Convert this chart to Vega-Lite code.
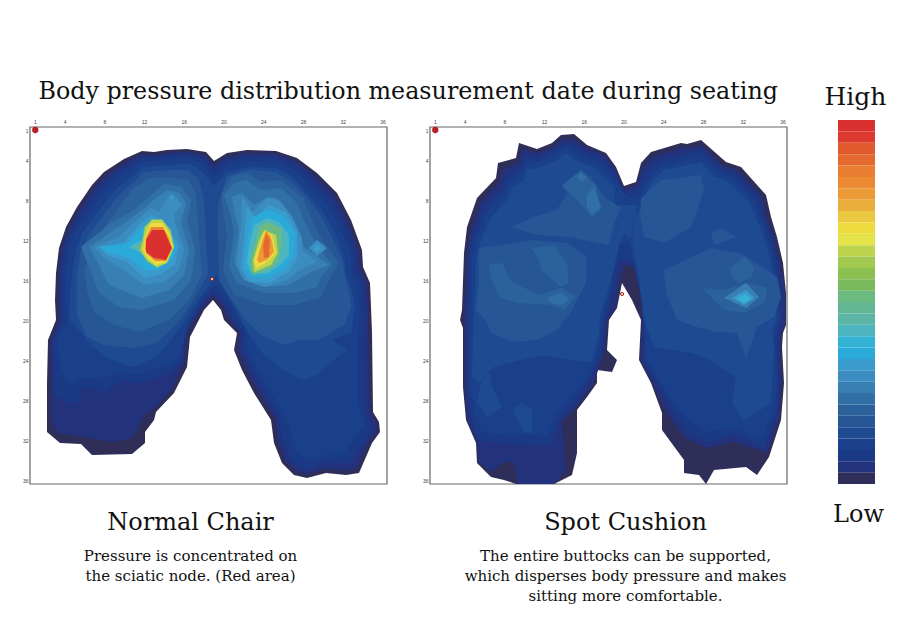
{
"$schema":"https://vega.github.io/schema/vega-lite/v6.json",
"background":"white",
"padding":{"left":22,"top":80,"right":5,"bottom":5},
"bounds":"flush",
"spacing":43,
"title":{"text":"Body pressure distribution measurement date during seating","font":"DejaVu Serif","fontSize":23.8,"fontWeight":"normal","color":"#111","anchor":"start","dx":16,"dy":19,"offset":0},
"config":{"view":{"stroke":null},"title":{"font":"DejaVu Serif","fontWeight":"normal","color":"#111","subtitleFont":"DejaVu Serif","subtitleColor":"#111"},"axis":{"labelFont":"Liberation Sans","labelFontSize":5,"labelColor":"#444","tickSize":0,"labelPadding":2,"domain":false,"ticks":false,"grid":false,"title":null}},
"resolve":{"scale":{"color":"shared"}},
"datasets":{
"frame":[{"x0":0.47,"x1":36.4,"y0":0.7,"y1":36.4}],
"ref":[{"sx":1,"sy":1}],
"ticks":[{"sensor":1,"row":0.2},{"sensor":4,"row":0.2},{"sensor":8,"row":0.2},{"sensor":12,"row":0.2},{"sensor":16,"row":0.2},{"sensor":20,"row":0.2},{"sensor":24,"row":0.2},{"sensor":28,"row":0.2},{"sensor":32,"row":0.2},{"sensor":36,"row":0.2}],
"left":[
{"level":1,"geometry":{"type":"Polygon","coordinates":[[[18.9,4.1],[18.1,3.2],[16.2,2.9],[14.2,3.0],[12.9,3.2],[11.7,3.1],[9.9,3.9],[7.9,5.2],[6.7,6.5],[5.2,8.7],[4.1,10.7],[3.4,12.8],[3.1,15.3],[3.0,18.0],[3.1,20.0],[2.3,22.0],[2.2,26.3],[2.2,31.2],[3.5,32.3],[5.6,32.4],[6.7,33.5],[10.7,33.4],[12.0,32.3],[12.0,31.2],[12.9,30.0],[13.1,29.2],[14.9,27.3],[16.2,24.7],[16.5,21.7],[17.9,19.0],[18.8,18.0],[19.6,19.0],[19.9,20.0],[21.2,21.3],[20.9,23.0],[21.7,25.0],[22.9,27.3],[24.6,30.0],[24.9,32.3],[25.7,34.3],[26.9,35.5],[28.2,35.8],[30.1,35.3],[32.1,35.5],[33.4,35.3],[34.7,32.3],[35.5,31.2],[35.4,30.2],[34.8,29.2],[34.7,21.3],[34.6,18.7],[34.5,16.3],[33.8,14.7],[33.7,13.0],[32.6,10.0],[31.2,7.3],[29.2,5.3],[27.2,3.8],[25.1,3.1],[22.2,3.0],[20.2,3.3],[18.9,4.1]]]}},
{"level":2,"geometry":{"type":"Polygon","coordinates":[[[11.7,3.4],[12.9,3.6],[14.2,3.3],[16.2,3.2],[17.9,3.5],[18.9,4.5],[20.2,3.7],[22.2,3.3],[25.1,3.4],[27.1,4.1],[29.0,5.6],[31.0,7.6],[32.3,10.2],[33.4,13.2],[33.5,14.8],[34.2,16.4],[34.3,18.7],[34.3,21.3],[34.5,29.2],[35.1,30.4],[35.2,31.2],[34.4,32.1],[33.1,34.9],[32.1,35.1],[30.1,34.9],[28.2,35.4],[27.1,35.1],[26.0,34.0],[25.3,32.1],[25.0,29.8],[23.3,27.1],[22.1,24.8],[21.3,22.9],[21.5,21.3],[20.3,19.8],[19.8,18.6],[18.8,17.6],[17.6,19.0],[16.2,21.3],[15.9,24.3],[14.6,27.0],[13.1,28.7],[11.9,29.5],[10.8,31.8],[8.7,32.2],[5.9,31.7],[3.2,31.3],[2.6,30.0],[2.6,22.0],[3.4,20.0],[3.4,15.3],[3.7,12.8],[4.4,10.8],[5.5,8.9],[7.0,6.7],[8.2,5.5],[10.1,4.2],[11.7,3.4]]]}},
{"level":3,"geometry":{"type":"Polygon","coordinates":[[[11.7,3.8],[14.2,3.6],[16.4,3.5],[17.9,3.9],[18.9,5.1],[20.2,4.1],[22.4,3.7],[25.1,3.8],[27.0,4.5],[28.7,6.0],[30.6,8.0],[31.9,10.5],[33.0,13.4],[33.1,15.0],[33.8,16.6],[33.9,18.7],[33.9,22.0],[34.0,29.2],[34.7,30.6],[34.7,31.0],[33.9,32.1],[32.6,34.2],[32.1,34.4],[30.1,34.2],[28.2,35.0],[27.1,34.5],[26.4,33.6],[25.7,31.9],[25.3,29.6],[23.8,26.9],[22.6,24.8],[21.8,22.8],[21.9,21.3],[20.7,19.8],[20.1,18.5],[18.8,17.1],[17.7,18.3],[16.0,21.0],[15.7,24.0],[14.6,25.3],[13.6,25.7],[11.6,26.3],[9.6,26.0],[7.9,27.3],[6.6,26.7],[5.6,26.8],[5.4,28.2],[4.4,28.3],[3.0,27.5],[2.8,22.0],[3.7,20.2],[3.7,15.3],[4.0,12.8],[4.8,10.9],[5.9,9.1],[7.3,7.0],[8.6,5.7],[10.4,4.5],[11.7,3.8]]]}},
{"level":4,"geometry":{"type":"Polygon","coordinates":[[[11.7,4.2],[14.2,4.0],[16.4,3.9],[17.8,4.4],[18.9,5.8],[20.2,4.6],[22.4,4.1],[25.1,4.3],[26.9,5.0],[28.4,6.5],[30.2,8.5],[31.5,10.8],[32.6,13.6],[32.6,15.2],[33.3,16.8],[33.5,18.7],[33.2,22.0],[33.2,28.0],[34.0,30.5],[32.9,31.8],[31.9,33.5],[30.1,33.5],[28.2,34.0],[26.9,33.0],[26.4,30.5],[25.6,29.0],[24.2,26.5],[22.9,24.2],[22.2,22.5],[22.2,21.0],[21.1,19.6],[20.4,18.0],[19.0,16.5],[18.0,17.4],[16.3,20.3],[15.6,23.2],[14.9,24.3],[13.6,24.6],[11.6,25.5],[9.6,25.2],[7.4,26.0],[5.8,25.7],[4.6,26.5],[3.6,25.0],[3.3,22.0],[4.2,20.2],[4.1,15.3],[4.5,12.8],[5.2,11.0],[6.4,9.3],[7.8,7.3],[9.0,6.1],[10.7,4.9],[11.7,4.2]]]}},
{"level":5,"geometry":{"type":"Polygon","coordinates":[[[11.7,4.7],[14.2,4.5],[16.4,4.4],[17.6,5.0],[18.9,6.6],[20.2,5.2],[22.4,4.7],[25.1,4.8],[26.7,5.6],[28.0,7.1],[29.7,9.0],[31.0,11.2],[32.0,14.0],[32.1,15.5],[32.7,17.0],[33.0,18.7],[32.6,21.3],[30.7,22.0],[32.2,23.0],[31.1,23.8],[29.2,25.5],[27.6,26.0],[25.9,25.0],[23.9,23.5],[22.4,21.5],[21.4,19.5],[20.4,17.5],[19.1,15.5],[18.2,16.8],[16.8,18.8],[15.6,20.6],[14.6,22.0],[13.2,23.7],[10.6,24.7],[8.2,23.8],[6.6,22.5],[5.4,21.0],[4.4,20.0],[4.7,15.3],[5.1,13.0],[5.8,11.2],[7.0,9.6],[8.4,7.7],[9.4,6.6],[11.0,5.5],[11.7,4.7]]]}},
{"level":6,"geometry":{"type":"MultiPolygon","coordinates":[[[[11.7,5.2],[14.4,5.0],[16.4,5.0],[17.4,6.0],[17.9,8.0],[18.1,12.0],[18.3,15.5],[16.5,18.6],[15.2,20.4],[13.2,22.3],[10.6,22.8],[7.9,22.5],[6.2,21.7],[5.2,19.5],[5.2,15.3],[5.6,13.0],[6.4,11.5],[7.6,9.8],[9.0,8.0],[9.9,7.0],[11.2,6.0],[11.7,5.2]]],[[[19.6,7.5],[20.2,5.6],[22.4,5.0],[25.1,5.2],[26.5,6.0],[28.0,7.5],[29.4,9.3],[30.6,11.5],[31.8,14.2],[32.0,15.8],[32.4,17.2],[32.6,18.7],[31.9,20.5],[29.4,22.0],[27.4,22.0],[25.9,22.5],[23.6,21.5],[21.9,19.8],[20.6,18.0],[19.4,16.0],[19.3,12.0],[19.3,8.5],[19.6,7.5]]]]}},
{"level":7,"geometry":{"type":"MultiPolygon","coordinates":[[[[12.4,5.8],[14.9,5.8],[16.4,6.0],[17.1,7.5],[17.4,12.0],[17.7,15.5],[16.4,18.0],[14.4,20.0],[11.4,21.2],[8.9,20.5],[6.9,19.2],[6.2,17.0],[5.9,15.0],[6.6,13.0],[7.4,11.5],[8.6,9.8],[9.9,8.0],[10.9,6.8],[12.4,5.8]]],[[[19.6,7.5],[20.7,5.6],[22.2,5.3],[23.6,6.2],[25.6,6.0],[27.8,7.8],[28.6,9.8],[29.6,11.8],[31.4,14.3],[30.4,16.0],[29.6,17.7],[26.9,18.5],[23.9,18.5],[20.9,17.5],[19.8,15.0],[20.2,11.5],[19.9,9.8],[19.6,7.5]]]]}},
{"level":8,"geometry":{"type":"MultiPolygon","coordinates":[[[[13.9,6.4],[15.6,6.7],[16.6,8.0],[16.2,10.0],[17.0,13.0],[16.6,16.0],[14.9,18.0],[11.6,19.0],[9.4,18.7],[7.4,17.3],[6.4,14.7],[5.6,12.7],[8.6,10.3],[10.9,9.0],[12.6,7.5],[13.9,6.4]]],[[[19.9,7.5],[20.9,6.3],[22.2,6.0],[23.6,7.0],[25.6,6.8],[27.2,8.3],[27.9,10.0],[28.9,12.0],[30.7,14.5],[29.6,15.7],[29.2,16.7],[26.9,17.3],[23.9,17.3],[21.2,16.3],[20.4,14.7],[20.9,11.3],[20.6,9.7],[19.9,7.5]]]]}},
{"level":9,"geometry":{"type":"MultiPolygon","coordinates":[[[[14.2,7.0],[15.4,7.3],[16.1,8.3],[15.6,10.2],[16.4,13.0],[15.9,15.5],[14.4,17.0],[11.6,17.8],[8.4,16.5],[7.4,14.5],[6.4,12.7],[8.9,11.0],[11.2,9.4],[12.9,8.0],[14.2,7.0]]],[[[20.7,7.7],[21.7,7.3],[22.9,8.5],[24.2,7.7],[25.1,7.8],[26.6,9.7],[27.2,11.3],[27.9,12.7],[30.4,14.5],[28.6,15.2],[26.4,16.5],[23.9,16.7],[21.7,15.8],[20.9,14.2],[21.4,11.0],[21.0,9.5],[20.7,7.7]]]]}},
{"level":10,"geometry":{"type":"MultiPolygon","coordinates":[[[[14.4,7.6],[15.2,7.8],[15.7,8.5],[14.9,9.5],[15.0,10.2],[15.9,13.0],[15.4,15.0],[13.9,16.2],[11.9,16.5],[9.9,15.0],[7.9,13.8],[6.9,12.7],[9.4,11.7],[11.4,9.8],[12.6,8.8],[13.4,9.2],[14.4,7.6]]],[[[21.7,7.6],[22.7,9.2],[24.2,7.8],[25.4,8.0],[26.7,9.6],[27.7,11.8],[27.7,13.0],[29.2,14.2],[27.4,15.0],[26.2,16.0],[23.9,16.7],[21.9,16.0],[21.2,14.5],[21.6,10.5],[21.7,7.6]]],[[[29.2,12.0],[30.2,12.8],[29.2,13.6],[28.4,12.8],[29.2,12.0]]]]}},
{"level":11,"geometry":{"type":"MultiPolygon","coordinates":[[[[7.4,12.7],[9.9,12.3],[11.4,10.5],[12.6,9.5],[13.9,10.2],[15.4,12.5],[15.0,14.5],[13.4,15.5],[11.9,15.8],[10.2,14.2],[8.2,13.5],[7.4,12.7]]],[[[14.6,7.4],[15.0,7.7],[14.7,8.0],[14.4,7.8],[14.6,7.4]]],[[[22.2,8.6],[23.0,9.8],[24.4,8.5],[26.1,9.2],[27.2,11.2],[27.2,13.8],[26.4,15.2],[24.4,16.3],[22.4,16.2],[21.6,14.8],[21.9,12.0],[22.2,8.6]]],[[[29.2,12.4],[29.7,12.8],[29.2,13.2],[28.8,12.8],[29.2,12.4]]]]}},
{"level":12,"geometry":{"type":"MultiPolygon","coordinates":[[[[7.4,12.7],[10.2,12.3],[11.6,10.8],[12.8,10.0],[14.0,10.6],[15.2,12.7],[14.6,14.2],[13.2,15.0],[12.0,15.0],[10.4,13.8],[8.2,13.2],[7.4,12.7]]],[[[22.7,9.8],[24.2,9.0],[25.7,9.5],[27.0,11.2],[26.9,13.5],[26.0,14.8],[24.4,15.8],[22.6,15.7],[21.9,14.8],[22.1,12.5],[22.7,9.8]]]]}},
{"level":14,"geometry":{"type":"MultiPolygon","coordinates":[[[[10.4,12.7],[11.6,12.0],[12.4,11.2],[13.1,10.6],[13.9,11.2],[14.8,12.7],[14.4,14.0],[13.2,14.6],[12.4,14.0],[11.4,13.2],[10.4,12.7]]],[[[22.9,10.5],[24.2,9.8],[25.4,10.2],[26.4,11.5],[26.4,13.5],[25.5,14.5],[24.2,15.4],[22.6,15.3],[22.2,14.2],[22.4,12.5],[22.9,10.5]]]]}},
{"level":17,"geometry":{"type":"MultiPolygon","coordinates":[[[[12.7,9.9],[13.7,9.9],[14.6,11.0],[14.9,12.7],[14.2,14.2],[13.2,14.8],[12.2,14.2],[11.6,13.2],[11.1,12.7],[11.7,12.2],[11.9,10.7],[12.7,9.9]]],[[[23.4,10.7],[24.2,10.2],[25.6,10.8],[25.7,12.3],[25.4,14.0],[24.7,14.8],[22.9,15.5],[22.6,15.0],[22.6,13.7],[23.2,11.7],[23.4,10.7]]]]}},
{"level":21,"geometry":{"type":"MultiPolygon","coordinates":[[[[12.7,10.0],[13.7,10.0],[14.5,11.1],[14.9,12.7],[14.2,14.3],[13.2,14.7],[12.2,14.0],[11.5,13.0],[11.8,12.0],[12.0,10.8],[12.7,10.0]]],[[[23.9,11.0],[25.1,11.5],[25.3,13.3],[24.6,14.5],[22.9,15.2],[22.8,14.0],[23.4,12.0],[23.9,11.0]]]]}},
{"level":23,"geometry":{"type":"MultiPolygon","coordinates":[[[[12.6,10.3],[13.7,10.3],[14.4,11.3],[14.8,12.7],[14.1,14.2],[13.1,14.5],[12.3,13.8],[11.8,13.0],[12.0,11.8],[12.6,10.3]]],[[[24.0,11.0],[24.7,11.5],[25.1,13.3],[24.2,14.2],[23.1,14.8],[22.9,14.0],[23.6,12.0],[24.0,11.0]]]]}},
{"level":26,"geometry":{"type":"Polygon","coordinates":[[[24.1,11.0],[24.6,11.7],[24.9,13.2],[24.2,14.0],[23.4,14.3],[23.2,14.0],[23.7,12.2],[24.1,11.0]]]}},
{"level":27,"geometry":{"type":"Polygon","coordinates":[[[12.6,10.7],[13.8,10.7],[14.4,11.8],[14.7,12.8],[14.1,14.1],[13.0,14.1],[12.2,13.4],[12.0,12.9],[12.1,11.8],[12.6,10.7]]]}},
{"level":29,"geometry":{"type":"Polygon","coordinates":[[[24.1,11.3],[24.5,12.0],[24.4,13.7],[23.9,13.8],[23.8,12.5],[24.1,11.3]]]}},
{"level":32,"geometry":{"type":"Polygon","coordinates":[[[12.7,11.0],[13.9,11.0],[14.4,12.2],[14.7,12.8],[14.1,14.0],[12.9,13.8],[12.1,13.2],[12.1,12.0],[12.7,11.0]]]}}
],
"right":[
{"level":1,"geometry":{"type":"Polygon","coordinates":[[[19.9,6.6],[19.1,4.7],[18.1,3.3],[16.2,2.5],[14.9,1.4],[13.6,1.5],[12.7,2.3],[11.2,2.9],[9.4,2.3],[9.1,3.8],[7.3,4.3],[7.1,5.8],[5.2,7.8],[4.2,10.7],[3.9,13.3],[3.7,19.0],[3.5,20.0],[3.8,20.8],[3.8,26.7],[4.1,30.0],[5.1,32.3],[5.2,34.3],[6.6,35.7],[7.9,36.0],[9.1,36.4],[12.9,36.4],[14.7,35.5],[15.2,33.3],[15.2,29.0],[16.2,27.7],[17.2,26.3],[17.2,25.0],[18.7,25.2],[19.2,24.0],[18.2,23.0],[18.4,20.0],[19.2,18.8],[19.7,16.3],[20.7,18.0],[21.6,20.0],[21.4,24.0],[22.6,26.3],[23.7,29.3],[23.7,31.0],[25.9,34.0],[25.9,35.3],[27.4,35.5],[28.1,36.4],[28.9,35.0],[32.1,34.7],[33.2,35.5],[34.4,33.7],[35.6,30.0],[35.9,26.3],[35.7,22.7],[35.8,21.3],[36.1,20.5],[36.1,17.3],[35.8,14.3],[35.2,11.7],[34.6,9.7],[34.1,7.5],[31.6,4.7],[30.1,4.2],[27.6,2.0],[26.2,2.4],[25.6,2.3],[22.6,3.2],[21.6,4.3],[21.1,6.2],[19.9,6.6]]]}},
{"level":2,"geometry":{"type":"Polygon","coordinates":[[[19.9,7.0],[18.9,4.8],[17.9,3.5],[16.2,2.8],[14.7,1.8],[13.6,2.0],[12.7,2.8],[11.2,3.3],[9.7,2.9],[9.4,4.2],[7.7,5.0],[7.4,6.3],[5.6,8.2],[4.6,11.0],[4.2,13.3],[4.0,19.0],[4.0,26.7],[4.2,30.0],[5.2,32.2],[5.4,34.2],[6.6,35.2],[7.9,34.2],[8.9,34.3],[9.3,36.4],[12.9,36.4],[14.1,35.0],[13.7,30.2],[15.1,28.8],[16.9,26.2],[17.6,24.2],[18.0,23.0],[18.2,20.0],[19.0,18.8],[19.5,16.0],[19.9,14.5],[20.9,14.7],[21.6,17.7],[21.7,20.0],[21.6,24.0],[22.7,26.2],[24.2,29.3],[25.9,31.8],[28.2,32.8],[30.9,32.2],[34.2,33.3],[35.4,29.8],[35.6,26.3],[35.5,22.7],[35.6,21.3],[36.0,20.3],[36.0,17.3],[35.5,14.3],[34.9,11.7],[34.2,9.8],[33.7,7.7],[31.2,5.0],[29.7,4.5],[27.6,2.5],[26.2,2.8],[25.6,2.8],[22.7,3.7],[21.7,4.8],[21.2,6.5],[19.9,7.0]]]}},
{"level":3,"geometry":{"type":"Polygon","coordinates":[[[19.9,7.3],[19.2,5.7],[17.6,3.8],[15.9,3.2],[14.6,2.3],[13.2,2.8],[11.2,3.8],[9.9,3.7],[9.6,4.7],[8.1,5.7],[7.7,7.0],[5.9,8.7],[4.9,11.3],[4.4,13.3],[4.2,20.0],[4.2,26.7],[4.6,29.7],[5.2,32.0],[7.2,32.3],[12.6,32.5],[13.4,30.0],[14.9,28.3],[16.6,25.7],[17.7,23.3],[18.0,20.0],[18.9,16.7],[19.4,14.0],[20.9,14.0],[21.6,16.7],[21.9,20.0],[21.9,24.0],[23.1,26.0],[24.6,28.7],[26.2,31.2],[28.2,32.2],[30.9,31.5],[33.9,32.8],[35.2,29.3],[35.4,26.3],[35.2,22.7],[35.3,21.3],[35.6,20.0],[35.6,17.3],[35.2,14.3],[34.6,11.7],[33.9,10.0],[33.4,8.0],[30.9,5.3],[29.6,5.0],[27.6,3.0],[26.2,3.3],[23.2,4.2],[22.1,5.2],[21.2,7.0],[19.9,7.3]]]}},
{"level":4,"geometry":{"type":"Polygon","coordinates":[[[20.3,7.8],[19.2,6.3],[17.2,4.2],[15.6,3.7],[14.2,2.8],[12.9,3.5],[11.2,4.3],[10.1,4.3],[9.7,5.3],[8.4,6.3],[7.9,7.5],[6.2,9.2],[5.2,11.7],[4.7,13.7],[4.6,20.0],[4.4,26.0],[4.9,29.0],[5.7,31.2],[7.9,31.5],[12.4,31.5],[13.1,29.3],[14.6,27.7],[16.2,25.7],[17.4,23.0],[17.7,20.0],[18.6,16.7],[19.4,12.3],[20.4,12.3],[21.2,15.7],[22.1,20.0],[22.1,24.0],[23.4,26.0],[24.9,28.3],[26.6,30.3],[28.2,31.2],[30.9,30.8],[33.6,32.0],[34.9,29.0],[35.2,26.3],[35.0,22.7],[35.0,21.3],[35.4,20.0],[35.3,17.3],[34.9,14.3],[34.2,11.7],[33.6,10.0],[32.9,8.0],[30.6,5.7],[29.2,5.3],[27.6,3.7],[26.2,4.0],[23.6,4.7],[22.4,5.7],[21.6,7.5],[20.3,7.8]]]}},
{"level":5,"geometry":{"type":"MultiPolygon","coordinates":[[[[19.4,12.7],[18.9,6.7],[16.9,4.7],[15.4,4.2],[14.1,3.3],[12.9,4.2],[11.2,4.8],[10.2,5.0],[9.9,6.0],[8.7,6.8],[8.2,8.0],[6.6,9.7],[5.6,12.0],[5.1,14.0],[4.9,18.7],[4.7,25.7],[5.4,26.3],[6.9,24.7],[9.6,24.0],[11.9,23.5],[14.6,24.0],[16.7,24.2],[17.4,21.3],[17.5,19.7],[18.6,16.0],[19.4,12.7]]],[[[18.9,8.5],[21.2,8.5],[20.7,12.0],[20.0,11.3],[19.4,12.5],[18.9,8.5]]],[[[5.6,26.3],[6.4,25.0],[6.7,26.7],[7.7,28.7],[6.2,29.7],[5.2,28.3],[5.6,26.3]]],[[[8.7,29.0],[9.7,28.3],[10.7,29.0],[10.7,31.3],[9.9,31.2],[8.7,29.0]]],[[[20.6,11.7],[21.4,15.7],[21.9,20.0],[22.9,22.7],[26.6,23.3],[28.6,24.0],[31.1,25.8],[30.7,28.3],[31.9,30.0],[34.6,28.3],[34.9,22.7],[34.7,21.3],[35.1,20.0],[35.1,17.3],[34.6,14.3],[33.9,11.7],[33.2,10.0],[32.4,8.2],[30.2,6.0],[28.9,5.7],[27.6,4.2],[26.2,4.5],[23.9,5.0],[22.7,6.0],[21.9,7.8],[20.9,10.0],[20.6,11.7]]]]}},
{"level":6,"geometry":{"type":"MultiPolygon","coordinates":[[[[8.6,10.7],[10.9,9.7],[13.2,9.0],[14.6,6.7],[15.6,5.0],[16.6,5.7],[17.9,7.7],[19.6,8.8],[18.9,10.3],[18.4,12.5],[14.2,11.7],[11.2,11.5],[8.6,10.7]]],[[[5.4,12.8],[10.6,12.0],[14.2,12.3],[16.2,13.7],[16.1,16.3],[14.7,19.0],[13.2,21.0],[11.2,22.0],[8.9,22.2],[6.6,21.3],[6.2,20.2],[5.1,19.0],[5.4,16.0],[5.4,12.8]]],[[[21.6,7.8],[23.6,6.0],[27.6,5.5],[27.9,7.0],[26.6,10.7],[23.9,12.3],[21.9,11.7],[21.5,9.7],[21.6,7.8]]],[[[28.6,11.3],[29.6,10.8],[31.1,11.7],[28.9,12.5],[28.6,11.3]]],[[[23.9,15.0],[28.6,12.8],[31.6,13.3],[35.2,15.7],[35.6,17.7],[34.9,19.7],[33.2,20.7],[32.1,23.8],[31.2,21.3],[29.2,21.2],[27.2,20.7],[25.2,20.0],[24.1,17.3],[23.9,15.0]]]]}},
{"level":7,"geometry":{"type":"MultiPolygon","coordinates":[[[[10.6,12.8],[12.9,12.5],[14.2,14.3],[14.4,16.3],[13.6,16.7],[11.6,15.0],[11.4,14.0],[10.6,12.8]]],[[[6.4,14.5],[7.7,14.3],[8.4,15.7],[8.9,16.3],[11.4,17.5],[13.6,16.8],[15.1,17.7],[13.9,19.0],[12.6,18.5],[9.2,18.3],[7.4,17.7],[6.7,16.0],[6.4,14.5]]],[[[13.7,6.5],[15.6,5.0],[16.2,5.8],[17.1,6.5],[17.6,9.0],[16.7,9.7],[15.2,8.0],[13.9,6.8],[13.7,6.5]]],[[[30.6,14.7],[31.9,13.7],[32.9,14.7],[32.7,15.7],[31.4,16.3],[30.7,15.7],[30.6,14.7]]],[[[27.7,16.8],[29.9,17.0],[32.1,16.3],[34.2,16.8],[33.9,18.3],[31.9,19.3],[29.9,19.0],[27.7,16.8]]]]}},
{"level":8,"geometry":{"type":"MultiPolygon","coordinates":[[[[16.2,7.5],[16.9,6.7],[17.6,8.7],[16.7,9.5],[16.2,8.7],[16.2,7.5]]],[[[12.2,17.8],[13.6,17.3],[14.4,17.9],[13.6,18.5],[12.6,18.3],[12.2,17.8]]],[[[15.2,5.7],[15.6,5.2],[16.2,5.7],[15.6,6.2],[15.2,5.7]]]]}},
{"level":9,"geometry":{"type":"Polygon","coordinates":[[[29.9,17.8],[32.1,16.3],[33.4,17.7],[32.1,18.8],[29.9,17.8]]]}},
{"level":11,"geometry":{"type":"Polygon","coordinates":[[[30.7,17.8],[32.1,17.0],[32.9,17.8],[31.9,18.5],[30.7,17.8]]]}},
{"level":13,"geometry":{"type":"Polygon","coordinates":[[[31.2,17.8],[32.1,17.4],[32.6,17.9],[31.9,18.3],[31.2,17.8]]]}}
],
"bar":[{"level":32},{"level":31},{"level":30},{"level":29},{"level":28},{"level":27},{"level":26},{"level":25},{"level":24},{"level":23},{"level":22},{"level":21},{"level":20},{"level":19},{"level":18},{"level":17},{"level":16},{"level":15},{"level":14},{"level":13},{"level":12},{"level":11},{"level":10},{"level":9},{"level":8},{"level":7},{"level":6},{"level":5},{"level":4},{"level":3},{"level":2},{"level":1}]
},
"hconcat":[
{"width":357,"height":364,
"title":{"text":"Normal Chair","orient":"bottom","anchor":"middle","fontSize":24,"offset":26,"dx":-18,"subtitle":["Pressure is concentrated on","the sciatic node. (Red area)"],"subtitleFontSize":15,"subtitleLineHeight":20,"subtitlePadding":14},
"layer":[
{"data":{"name":"frame"},"mark":{"type":"rect","fill":"white","stroke":"#666","strokeWidth":1.2},
"encoding":{"x":{"field":"x0","type":"quantitative","scale":{"domain":[0.47,36.4],"nice":false,"zero":false},"axis":null},"x2":{"field":"x1"},
"y":{"field":"y0","type":"quantitative","scale":{"domain":[0,36.4],"reverse":true,"nice":false,"zero":false},"axis":{"values":[1,4,8,12,16,20,24,28,32,36],"labelOverlap":false}},"y2":{"field":"y1"}}},
{"data":{"name":"left"},"mark":{"type":"geoshape","stroke":null},"projection":{"type":"identity","scale":10,"translate":[-5,0]},
"encoding":{"shape":{"field":"geometry","type":"geojson"},"color":{"field":"level","type":"ordinal","legend":null}}},
{"data":{"name":"ticks"},"mark":{"type":"text","font":"Liberation Sans","fontSize":5,"color":"#444"},
"encoding":{"x":{"field":"sensor","type":"quantitative","axis":null},"y":{"field":"row","type":"quantitative"},"text":{"field":"sensor","type":"quantitative"}}},
{"data":{"name":"ref"},"mark":{"type":"circle","fill":"#B5202A","size":40,"opacity":1},
"encoding":{"x":{"field":"sx","type":"quantitative","axis":null},"y":{"field":"sy","type":"quantitative"}}},
{"data":{"values":[{"sx":18.8,"sy":15.9}]},"mark":{"type":"circle","fill":"#F5E6C0","stroke":"#A02020","strokeWidth":1,"size":10,"opacity":1},
"encoding":{"x":{"field":"sx","type":"quantitative","axis":null},"y":{"field":"sy","type":"quantitative"}}}
]},
{"width":357,"height":364,
"title":{"text":"Spot Cushion","orient":"bottom","anchor":"middle","fontSize":24,"offset":26,"dx":17,"subtitle":["The entire buttocks can be supported,","which disperses body pressure and makes","sitting more comfortable."],"subtitleFontSize":15,"subtitleLineHeight":20,"subtitlePadding":14},
"layer":[
{"data":{"name":"frame"},"mark":{"type":"rect","fill":"white","stroke":"#666","strokeWidth":1.2},
"encoding":{"x":{"field":"x0","type":"quantitative","scale":{"domain":[0.47,36.4],"nice":false,"zero":false},"axis":null},"x2":{"field":"x1"},
"y":{"field":"y0","type":"quantitative","scale":{"domain":[0,36.4],"reverse":true,"nice":false,"zero":false},"axis":{"values":[1,4,8,12,16,20,24,28,32,36],"labelOverlap":false}},"y2":{"field":"y1"}}},
{"data":{"name":"right"},"mark":{"type":"geoshape","stroke":null},"projection":{"type":"identity","scale":10,"translate":[-5,0]},
"encoding":{"shape":{"field":"geometry","type":"geojson"},"color":{"field":"level","type":"ordinal","legend":null}}},
{"data":{"name":"ticks"},"mark":{"type":"text","font":"Liberation Sans","fontSize":5,"color":"#444"},
"encoding":{"x":{"field":"sensor","type":"quantitative","axis":null},"y":{"field":"row","type":"quantitative"},"text":{"field":"sensor","type":"quantitative"}}},
{"data":{"name":"ref"},"mark":{"type":"circle","fill":"#B5202A","size":40,"opacity":1},
"encoding":{"x":{"field":"sx","type":"quantitative","axis":null},"y":{"field":"sy","type":"quantitative"}}},
{"data":{"values":[{"sx":19.8,"sy":17.4}]},"mark":{"type":"circle","fill":"#F5E6C0","stroke":"#A02020","strokeWidth":1,"size":10,"opacity":1},
"encoding":{"x":{"field":"sx","type":"quantitative","axis":null},"y":{"field":"sy","type":"quantitative"}}}
]},
{"width":45,"height":364,
"title":{"text":"High","orient":"top","anchor":"middle","fontSize":25,"offset":10,"dx":3},
"data":{"name":"bar"},
"transform":[{"calculate":"'Low'","as":"end"}],
"mark":{"type":"rect"},
"encoding":{
"x":{"field":"end","type":"nominal","scale":{"paddingInner":0,"paddingOuter":0.108,"align":1},"axis":{"title":"Low","titleFont":"DejaVu Serif","titleFontSize":24,"titleFontWeight":"normal","titleColor":"#111","titlePadding":18,"titleX":28,"labels":false,"ticks":false,"domain":false}},
"y":{"field":"level","type":"ordinal","sort":"descending","scale":{"paddingInner":0,"paddingOuter":0},"axis":null},
"color":{"field":"level","type":"ordinal","legend":null,"scale":{"domain":[1,2,3,4,5,6,7,8,9,10,11,12,13,14,15,16,17,18,19,20,21,22,23,24,25,26,27,28,29,30,31,32],"range":["#2E2E58","#22327C","#1A3A86","#1B408B","#1E4A92","#265696","#2C629C","#3170A6","#3880B4","#3B8CC0","#3A9BCE","#2AAAD9","#33B2D6","#4DB5C0","#5BB5A5","#63B893","#6BBB80","#79BA5C","#8CC152","#A3CA50","#BFD44E","#E5E34A","#EEDC3E","#EAC83F","#E9AE3B","#EB9A35","#EB8A32","#E97D30","#E4692F","#E05A2E","#DC3A2E","#DA3030"]}}
}}
]
}
